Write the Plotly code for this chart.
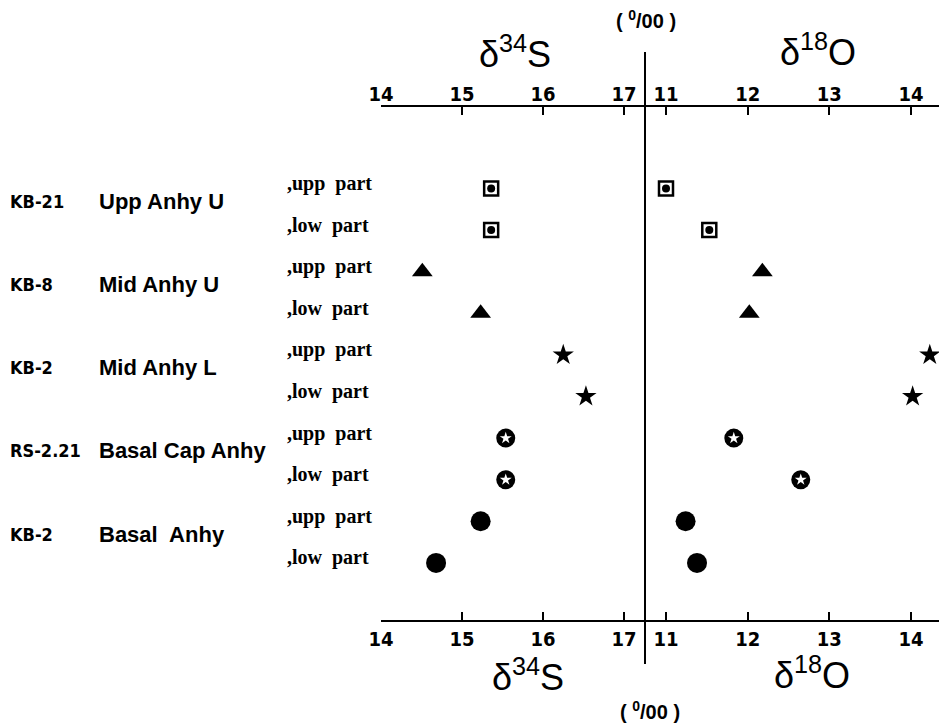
import plotly.graph_objects as go

W, H = 947, 724
OFF = 8  # page body margin offset

# ---------------- data ----------------
samples = ["KB-21", "KB-8", "KB-2", "RS-2.21", "KB-2"]
formations = ["Upp Anhy U", "Mid Anhy U", "Mid Anhy L", "Basal Cap Anhy", "Basal  Anhy"]
parts = [",upp  part", ",low  part"] * 5
d34S = [15.36, 15.36, 14.51, 15.23, 16.25, 16.53, 15.54, 15.54, 15.23, 14.68]
d18O = [11.00, 11.53, 12.18, 12.02, 14.23, 14.02, 11.83, 12.65, 11.24, 11.38]
s_ticks = [14, 15, 16, 17]
o_ticks = [11, 12, 13, 14]

rows = list(range(len(parts)))


def px(x):
    return (x - OFF) / W


def py(y):
    return 1 - (y - OFF) / H


BLACK = "black"
narrow = "DejaVu Sans Condensed, Liberation Sans Narrow, Arial Narrow, sans-serif"
sans = "Liberation Sans, Arial, sans-serif"
serif = "Liberation Serif, Times New Roman, serif"

fig = go.Figure()

# marker styles per sample group (two rows each)
styles = [
    [dict(symbol="square-open", size=14, color=BLACK, line=dict(width=2.5, color=BLACK)),
     dict(symbol="circle", size=8, color=BLACK)],
    [dict(symbol="triangle-up", size=18, color=BLACK)],
    [dict(symbol="star", size=16, color=BLACK, line=dict(width=0))],
    [dict(symbol="circle", size=19, color=BLACK),
     dict(symbol="star", size=9, color="white", line=dict(width=0))],
    [dict(symbol="circle", size=20, color=BLACK)],
]

for g, st in enumerate(styles):
    idx = [2 * g, 2 * g + 1]
    for m in st:
        fig.add_trace(go.Scatter(x=[d34S[i] for i in idx], y=[rows[i] for i in idx],
                                 mode="markers", marker=m, xaxis="x", yaxis="y",
                                 showlegend=False, hoverinfo="skip"))
        fig.add_trace(go.Scatter(x=[d18O[i] for i in idx], y=[rows[i] for i in idx],
                                 mode="markers", marker=m, xaxis="x2", yaxis="y",
                                 showlegend=False, hoverinfo="skip"))

# invisible carriers so the top axes are drawn
fig.add_trace(go.Scatter(x=d34S, y=rows, mode="markers", marker=dict(opacity=0),
                         xaxis="x3", yaxis="y", showlegend=False, hoverinfo="skip"))
fig.add_trace(go.Scatter(x=d18O, y=rows, mode="markers", marker=dict(opacity=0),
                         xaxis="x4", yaxis="y", showlegend=False, hoverinfo="skip"))

# ---------------- axes geometry (reference pixel coords) ----------------
x_left0, x_div = 381, 645
x_right1 = W + OFF
s_per = 81.0
o_per = 81.67
o11 = 666
s_range = [14, 14 + (x_div - x_left0) / s_per]
o_range = [11 - (o11 - x_div) / o_per, 11 + (x_right1 - o11) / o_per]

top_px, bot_px = 107, 620
row0_px, row_step = 188.5, 41.6
y_range = [(bot_px - row0_px) / row_step, (top_px - row0_px) / row_step]

tickfont = dict(family=narrow, size=20, color=BLACK, weight="bold")
common = dict(showline=True, linewidth=2, linecolor=BLACK, ticks="inside", ticklen=8,
              tickwidth=2, tickcolor=BLACK, showgrid=False, zeroline=False,
              tickfont=tickfont, fixedrange=True, automargin=False)

fig.update_layout(
    width=W, height=H,
    margin=dict(l=0, r=0, t=0, b=0, autoexpand=False),
    paper_bgcolor="white", plot_bgcolor="white",
    xaxis=dict(domain=[px(x_left0), px(x_div)], range=s_range, anchor="y", side="bottom",
               tickvals=s_ticks, **common),
    xaxis2=dict(domain=[px(x_div), 1], range=o_range, anchor="y", side="bottom",
                tickvals=o_ticks, **common),
    xaxis3=dict(domain=[px(x_left0), px(x_div)], range=s_range, anchor="y", side="top",
                overlaying="x", tickvals=s_ticks, ticklabelstandoff=-4, **common),
    xaxis4=dict(domain=[px(x_div), 1], range=o_range, anchor="y", side="top",
                overlaying="x2", tickvals=o_ticks, ticklabelstandoff=-4, **common),
    yaxis=dict(domain=[py(bot_px), py(top_px)], range=y_range, visible=False, fixedrange=True),
    showlegend=False,
)

# divider line
fig.add_shape(type="line", xref="paper", yref="paper", x0=px(x_div), x1=px(x_div),
              y0=py(52), y1=py(664), line=dict(color=BLACK, width=2))

ann = []
# part labels
for i, p in enumerate(parts):
    ann.append(dict(x=px(285), y=rows[i], xref="paper", yref="y", text=p, showarrow=False,
                    xanchor="left", yanchor="middle", yshift=5,
                    font=dict(family=serif, size=20, color=BLACK, weight="bold")))
# group labels
for g in range(len(samples)):
    yc = (rows[2 * g] + rows[2 * g + 1]) / 2
    ann.append(dict(x=px(8), y=yc, xref="paper", yref="y", text=samples[g], showarrow=False,
                    xanchor="left", yanchor="middle", yshift=8,
                    font=dict(family=narrow, size=18, color=BLACK, weight="bold")))
    ann.append(dict(x=px(97), y=yc, xref="paper", yref="y", text=formations[g], showarrow=False,
                    xanchor="left", yanchor="middle", yshift=8,
                    font=dict(family=sans, size=22, color=BLACK, weight="bold")))

# axis titles
tfont = dict(family=sans, size=36, color=BLACK)
for (x, y, t) in [(515, 52, "δ<sup>34</sup>S"), (818, 50, "δ<sup>18</sup>O"),
                  (528, 675, "δ<sup>34</sup>S"), (812, 673, "δ<sup>18</sup>O")]:
    ann.append(dict(x=px(x), y=py(y), xref="paper", yref="paper", text=t, showarrow=False,
                    xanchor="center", yanchor="middle", font=tfont))
ufont = dict(family=sans, size=20, color=BLACK, weight="bold")
for (x, y) in [(646, 20), (650, 710)]:
    ann.append(dict(x=px(x), y=py(y), xref="paper", yref="paper", text="( <sup>0</sup>/00 )",
                    showarrow=False, xanchor="center", yanchor="middle", font=ufont))

fig.update_layout(annotations=ann)
fig.write_html("out.html")
